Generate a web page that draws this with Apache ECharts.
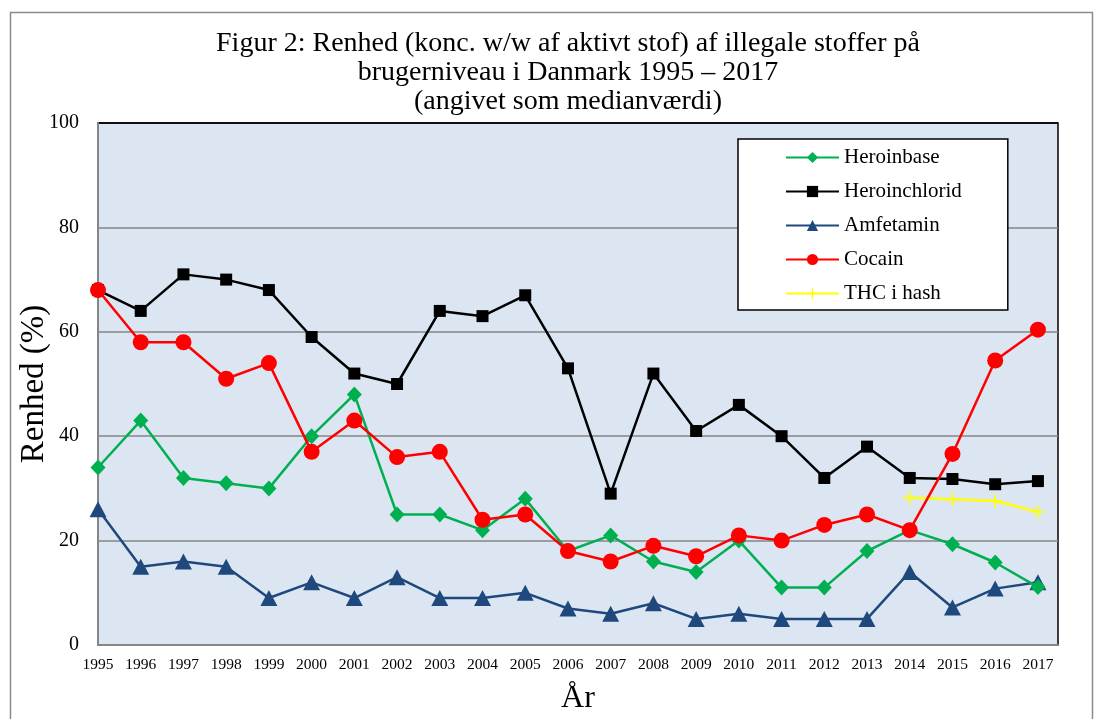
<!DOCTYPE html>
<html>
<head>
<meta charset="utf-8">
<script src="https://cdn.jsdelivr.net/npm/echarts@6/dist/echarts.min.js"></script>
<style>html,body{margin:0;padding:0;background:#fff;}#c{width:1095px;height:719px;}</style>
</head>
<body>
<div id="c"></div>
<script>
const years = [1995,1996,1997,1998,1999,2000,2001,2002,2003,2004,2005,2006,2007,2008,2009,2010,2011,2012,2013,2014,2015,2016,2017];
const heroinbase = [34,43,32,31,30,40,48,25,25,22,28,18,21,16,14,20,11,11,18,22,19.3,15.8,11.1];
const heroinchlorid = [68,64,71,70,68,59,52,50,64,63,67,53,29,52,41,46,40,32,38,32,31.8,30.8,31.4];
const amfetamin = [26,15,16,15,9,12,9,13,9,9,10,7,6,8,5,6,5,5,5,14,7.2,10.8,12];
const cocain = [68,58,58,51,54,37,43,36,37,24,25,18,16,19,17,21,20,23,25,22,36.6,54.5,60.4];
const thcYears = [2014,2015,2016,2017];
const thc = [28.2,27.9,27.6,25.5];
const titleLines = ['Figur 2: Renhed (konc. w/w af aktivt stof) af illegale stoffer på','brugerniveau i Danmark 1995 – 2017','(angivet som medianværdi)'];

const pair = (xs, ys) => xs.map((x, i) => [x, ys[i]]);
const serif = 'Liberation Serif';
const plusPath = 'path://M4.4,0H5.6V4.4H10V5.6H5.6V10H4.4V5.6H0V4.4H4.4Z';

const chart = echarts.init(document.getElementById('c'));
chart.setOption({
  animation: false,
  backgroundColor: '#fff',
  graphic: [
    {type:'rect', shape:{x:10.5,y:12.5,width:1082,height:720}, style:{fill:'none', stroke:'#8c8c8c', lineWidth:1.5}, z:-10},
    {type:'text', x:568, y:44, style:{text:titleLines[0], font:'28px "Liberation Serif"', fill:'#000', textAlign:'center', textVerticalAlign:'middle'}},
    {type:'text', x:568, y:73, style:{text:titleLines[1], font:'28px "Liberation Serif"', fill:'#000', textAlign:'center', textVerticalAlign:'middle'}},
    {type:'text', x:568, y:102, style:{text:titleLines[2], font:'28px "Liberation Serif"', fill:'#000', textAlign:'center', textVerticalAlign:'middle'}}
  ],
  grid: {left:98, top:123, width:960, height:522, outerBoundsMode:'none', containLabel:false,
    show:true, backgroundColor:'#dce6f2', borderColor:'#000', borderWidth:1.5},
  legend: {
    orient:'vertical', left:738, top:139,
    padding:[8,46,6,47],
    backgroundColor:'#fff', borderColor:'#000', borderWidth:1.5,
    itemWidth:53, itemHeight:14, itemGap:13,
    textStyle:{fontFamily:serif, fontSize:21, color:'#000'},
    data:['Heroinbase','Heroinchlorid','Amfetamin','Cocain','THC i hash']
  },
  xAxis: {
    type:'value', min:1995, max:2017.47, interval:1,
    name:'År', nameLocation:'middle', nameGap:38, nameMoveOverlap:false,
    nameTextStyle:{fontFamily:serif, fontSize:32, color:'#000'},
    axisLine:{show:true, lineStyle:{color:'#868686', width:2}},
    axisTick:{show:false},
    splitLine:{show:false},
    axisLabel:{fontFamily:serif, fontSize:15.5, color:'#000', margin:12,
      formatter: v => Number.isInteger(v) ? String(v) : ''}
  },
  yAxis: {
    type:'value', min:0, max:100, interval:20,
    name:'Renhed (%)', nameLocation:'middle', nameGap:47, nameRotate:90, nameMoveOverlap:false,
    nameTextStyle:{fontFamily:serif, fontSize:33, color:'#000'},
    axisLine:{show:true, lineStyle:{color:'#868686', width:2}},
    axisTick:{show:false},
    splitLine:{show:true, lineStyle:{color:['#868686','#868686','#868686','#868686','#868686','#000'], width:1.5}},
    axisLabel:{fontFamily:serif, fontSize:20, color:'#000', margin:19}
  },
  series: [
    {name:'Heroinbase', type:'line', data:pair(years, heroinbase), symbol:'diamond', symbolSize:[15,16],
     itemStyle:{color:'#00b050'}, lineStyle:{color:'#00b050', width:2.5}, z:3},
    {name:'Heroinchlorid', type:'line', data:pair(years, heroinchlorid), symbol:'rect', symbolSize:12,
     itemStyle:{color:'#000'}, lineStyle:{color:'#000', width:2.5}, z:2},
    {name:'Amfetamin', type:'line', data:pair(years, amfetamin), symbol:'triangle', symbolSize:[17,16],
     itemStyle:{color:'#1f497d'}, lineStyle:{color:'#1f497d', width:2.5}, z:2},
    {name:'Cocain', type:'line', data:pair(years, cocain), symbol:'circle', symbolSize:16,
     itemStyle:{color:'#ff0000'}, lineStyle:{color:'#ff0000', width:2.5}, z:4},
    {name:'THC i hash', type:'line', data:pair(thcYears, thc), symbol:plusPath, symbolSize:14,
     itemStyle:{color:'#ffff00'}, lineStyle:{color:'#ffff00', width:2.5}, z:3}
  ]
});
</script>
</body>
</html>
